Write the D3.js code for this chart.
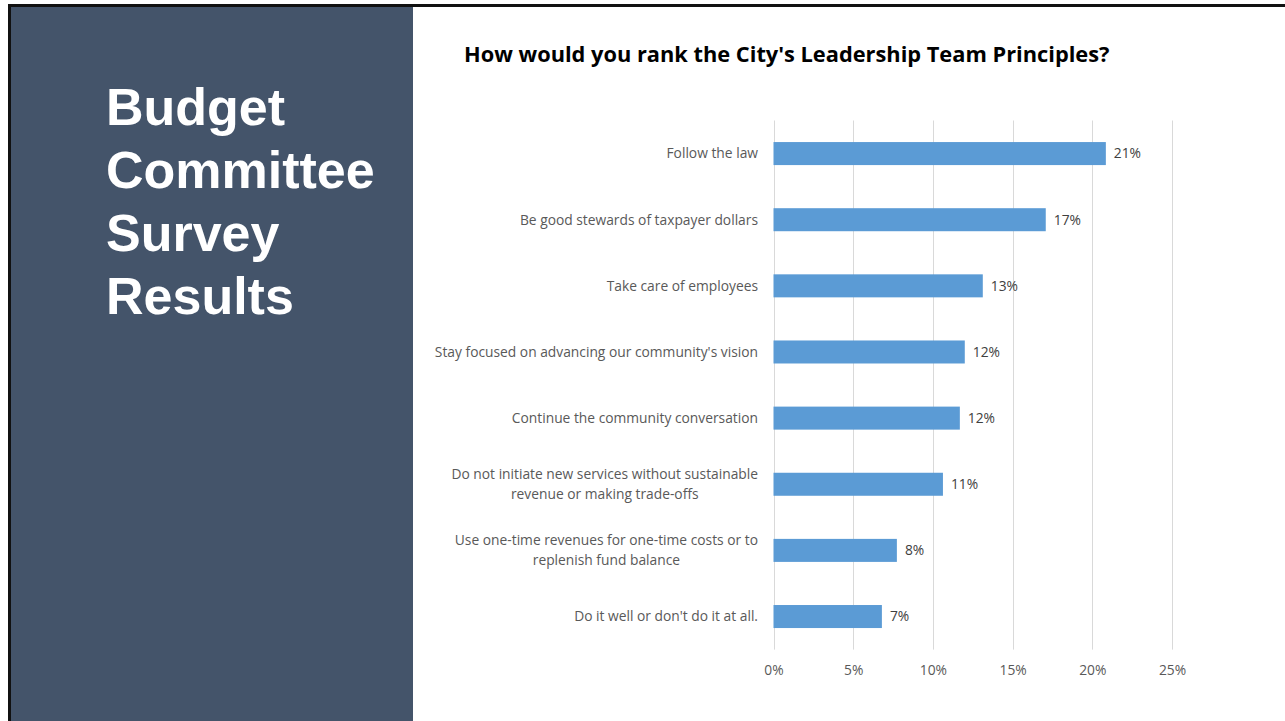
<!DOCTYPE html>
<html>
<head>
<meta charset="utf-8">
<script src="https://cdn.jsdelivr.net/npm/d3@7"></script>
<style>
  html, body { margin: 0; padding: 0; background: #ffffff; }
  svg { display: block; }
</style>
</head>
<body>
<svg id="slide" width="1285" height="721"></svg>
<script>
// Survey data: share of responses for each leadership principle
const categories = [
  "Follow the law",
  "Be good stewards of taxpayer dollars",
  "Take care of employees",
  "Stay focused on advancing our community's vision",
  "Continue the community conversation",
  "Do not initiate new services without sustainable|revenue or making trade-offs",
  "Use one-time revenues for one-time costs or to|replenish fund balance",
  "Do it well or don't do it at all."
];
const shares = [0.2085, 0.1708, 0.1313, 0.1200, 0.1169, 0.1063, 0.0774, 0.0680];
const tickValues = [0, 0.05, 0.10, 0.15, 0.20, 0.25];
const panelTitle = ["Budget", "Committee", "Survey", "Results"];
const chartTitle = "How would you rank the City's Leadership Team Principles?";

const svg = d3.select("#slide");
const labelFont = "'Open Sans', Lato, sans-serif";
const labelSize = 13.8;

// Slide frame and left title panel
svg.append("rect").attr("x", 0).attr("y", 0).attr("width", 1285).attr("height", 721).attr("fill", "#ffffff");
svg.append("rect").attr("x", 8).attr("y", 4).attr("width", 1277).attr("height", 3).attr("fill", "#111111");
svg.append("rect").attr("x", 8).attr("y", 4).attr("width", 3).attr("height", 717).attr("fill", "#111111");
svg.append("rect").attr("x", 11).attr("y", 7).attr("width", 402).attr("height", 714).attr("fill", "#44546A");

svg.append("g")
  .selectAll("text")
  .data(panelTitle)
  .join("text")
  .attr("x", 106)
  .attr("y", (d, i) => 125 + i * 63)
  .attr("fill", "#ffffff")
  .attr("font-family", "'Liberation Sans', Arial, sans-serif")
  .attr("font-weight", "bold")
  .attr("font-size", 52)
  .text(d => d);

// Chart title
svg.append("text")
  .attr("x", 464)
  .attr("y", 62)
  .attr("fill", "#000000")
  .attr("font-family", labelFont)
  .attr("font-weight", "bold")
  .attr("font-size", 21.8)
  .text(chartTitle);

// Scales
const x = d3.scaleLinear().domain([0, 0.25]).range([773.5, 1172]);
const y = d3.scaleBand().domain(categories).range([120.5, 649.6]).paddingInner(0.652).paddingOuter(0.326);

// Vertical gridlines
svg.append("g")
  .selectAll("line")
  .data(tickValues)
  .join("line")
  .attr("x1", d => Math.round(x(d)) + 0.5)
  .attr("x2", d => Math.round(x(d)) + 0.5)
  .attr("y1", 120.5)
  .attr("y2", 649.6)
  .attr("stroke", "#D9D9D9")
  .attr("stroke-width", 1);

// Bottom axis tick labels
const xAxis = d3.axisBottom(x).tickValues(tickValues).tickFormat(d3.format(".0%")).tickSize(0).tickPadding(0);
const axisG = svg.append("g").attr("transform", "translate(0,666)").call(xAxis);
axisG.select(".domain").remove();
axisG.selectAll("text")
  .attr("fill", "#595959")
  .attr("font-family", labelFont)
  .attr("font-size", labelSize)
  .attr("dy", "0.32em")
  .attr("y", 5);

// Bars
svg.append("g")
  .selectAll("rect")
  .data(categories)
  .join("rect")
  .attr("x", x(0))
  .attr("y", d => y(d))
  .attr("width", (d, i) => x(shares[i]) - x(0))
  .attr("height", y.bandwidth())
  .attr("fill", "#5B9BD5");

// Value labels at bar ends
svg.append("g")
  .selectAll("text")
  .data(categories)
  .join("text")
  .attr("x", (d, i) => x(shares[i]) + 8)
  .attr("y", d => y(d) + y.bandwidth() / 2)
  .attr("dy", "0.35em")
  .attr("fill", "#404040")
  .attr("font-family", labelFont)
  .attr("font-size", labelSize)
  .text((d, i) => d3.format(".0%")(shares[i]));

// Category labels (multi-line labels are wrapped and centred on the first line)
const catG = svg.append("g")
  .selectAll("g")
  .data(categories)
  .join("g")
  .attr("transform", d => `translate(758,${y(d) + y.bandwidth() / 2})`);

catG.each(function(d) {
  const lines = d.split("|");
  const g = d3.select(this);
  const lh = 19.5;
  const t = g.selectAll("text")
    .data(lines)
    .join("text")
    .attr("y", (l, i) => (i - (lines.length - 1) / 2) * lh)
    .attr("dy", "0.35em")
    .attr("fill", "#595959")
    .attr("font-family", labelFont)
    .attr("font-size", labelSize)
    .text(l => l);
  if (lines.length === 1) {
    t.attr("text-anchor", "end");
  } else {
    const w0 = t.nodes()[0].getComputedTextLength();
    t.attr("text-anchor", "middle").attr("x", -w0 / 2);
  }
});
</script>
</body>
</html>
